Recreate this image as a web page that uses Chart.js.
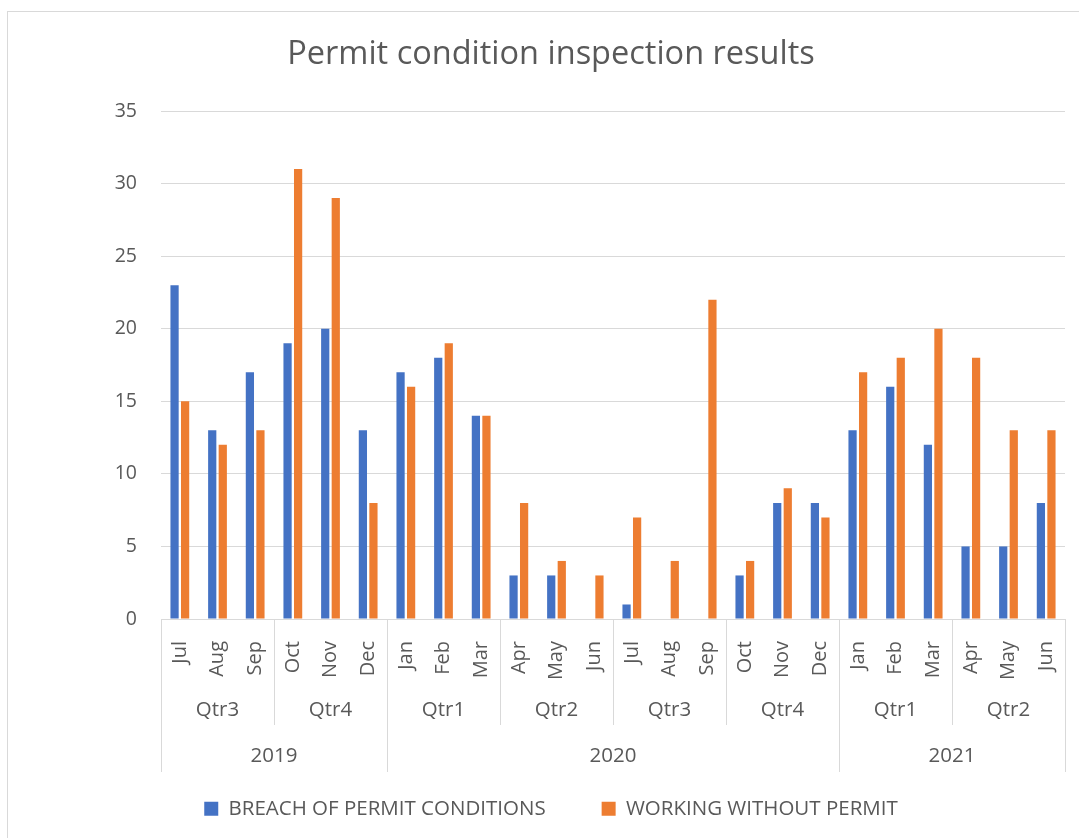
<!DOCTYPE html>
<html>
<head>
<meta charset="utf-8">
<title>Permit condition inspection results</title>
<script src="https://cdn.jsdelivr.net/npm/chart.js@4.4.1/dist/chart.umd.min.js"></script>
<style>
    html, body { margin: 0; padding: 0; background: #fff; overflow: hidden; }
    #frame { position: absolute; left: 7px; top: 11px; width: 1088px; height: 840px; border: 1px solid #D9D9D9; }
    #frame canvas { display: block; }
</style>
</head>
<body>
<div id="frame">
    <canvas id="chart" width="1086" height="830"></canvas>
</div>
<script>
const months = ['Jul', 'Aug', 'Sep', 'Oct', 'Nov', 'Dec',
                'Jan', 'Feb', 'Mar', 'Apr', 'May', 'Jun', 'Jul', 'Aug', 'Sep', 'Oct', 'Nov', 'Dec',
                'Jan', 'Feb', 'Mar', 'Apr', 'May', 'Jun'];
const quarters = ['Qtr3', 'Qtr4', 'Qtr1', 'Qtr2', 'Qtr3', 'Qtr4', 'Qtr1', 'Qtr2'];
const years = ['2019', '2020', '2021'];
const yearSpans = [6, 12, 6]; // months per year group

const breachValues = [23, 13, 17, 19, 20, 13, 17, 18, 14, 3, 3, 0, 1, 0, 0, 3, 8, 8, 13, 16, 12, 5, 5, 8];
const noPermitValues = [15, 12, 13, 31, 29, 8, 16, 19, 14, 8, 4, 3, 7, 4, 22, 4, 9, 7, 17, 18, 20, 18, 13, 13];

const textColor = '#595959';
const lineColor = '#D9D9D9';
const fontFamily = "'Open Sans', 'Noto Sans', sans-serif";

// draws the quarter / year rows and their separator lines under the month labels
const groupAxisPlugin = {
    id: 'groupAxis',
    afterDraw(chart) {
        const ctx = chart.ctx;
        const xScale = chart.scales.x;
        const y0 = chart.chartArea.bottom;
        const edge = i => xScale.getPixelForValue(i - 0.5);
        const quarterLineEnd = y0 + 106;
        const yearLineEnd = y0 + 153;

        const yearEdges = [0];
        yearSpans.forEach(s => yearEdges.push(yearEdges[yearEdges.length - 1] + s));

        ctx.save();
        ctx.strokeStyle = lineColor;
        ctx.lineWidth = 1;
        for (let i = 0; i <= months.length; i += 3) {
            const x = Math.round(edge(i)) + 0.5;
            const end = yearEdges.includes(i) ? yearLineEnd : quarterLineEnd;
            ctx.beginPath();
            ctx.moveTo(x, y0);
            ctx.lineTo(x, end);
            ctx.stroke();
        }

        ctx.fillStyle = textColor;
        ctx.textAlign = 'center';
        ctx.textBaseline = 'middle';
        ctx.font = `20.5px ${fontFamily}`;
        quarters.forEach((q, i) => {
            const cx = (edge(i * 3) + edge(i * 3 + 3)) / 2;
            ctx.fillText(q, cx, y0 + 91);
        });
        years.forEach((yr, i) => {
            const cx = (edge(yearEdges[i]) + edge(yearEdges[i + 1])) / 2;
            ctx.fillText(yr, cx, y0 + 137);
        });
        ctx.restore();
    }
};

new Chart(document.getElementById('chart'), {
    type: 'bar',
    data: {
        labels: months,
        datasets: [
            {
                label: 'BREACH OF PERMIT CONDITIONS',
                data: breachValues,
                backgroundColor: '#4472C4',
                categoryPercentage: 0.56,
                barPercentage: 0.78
            },
            {
                label: 'WORKING WITHOUT PERMIT',
                data: noPermitValues,
                backgroundColor: '#ED7D31',
                categoryPercentage: 0.56,
                barPercentage: 0.78
            }
        ]
    },
    options: {
        responsive: false,
        animation: false,
        layout: { padding: { left: 29, right: 29, top: 0, bottom: 13 } },
        plugins: {
            title: {
                display: true,
                text: 'Permit condition inspection results',
                color: textColor,
                font: { family: fontFamily, size: 32.5, weight: 'normal' },
                padding: { top: 23.5, bottom: 36.5 }
            },
            legend: {
                position: 'bottom',
                labels: {
                    color: textColor,
                    font: { family: fontFamily, size: 20.5 },
                    boxWidth: 14,
                    boxHeight: 14,
                    padding: 56
                }
            },
            tooltip: { enabled: false }
        },
        scales: {
            x: {
                grid: { display: false },
                border: { color: lineColor },
                ticks: {
                    color: textColor,
                    font: { family: fontFamily, size: 20 },
                    autoSkip: false,
                    minRotation: 90,
                    maxRotation: 90,
                    padding: 14
                },
                afterFit(scale) { scale.height = 123.5; }
            },
            y: {
                min: 0,
                max: 35,
                grid: { color: lineColor, drawTicks: false },
                border: { display: false },
                ticks: {
                    stepSize: 5,
                    color: textColor,
                    font: { family: fontFamily, size: 19.5 },
                    padding: 24
                },
                afterFit(scale) { scale.width = 124; }
            }
        }
    },
    plugins: [groupAxisPlugin]
});
</script>
</body>
</html>
